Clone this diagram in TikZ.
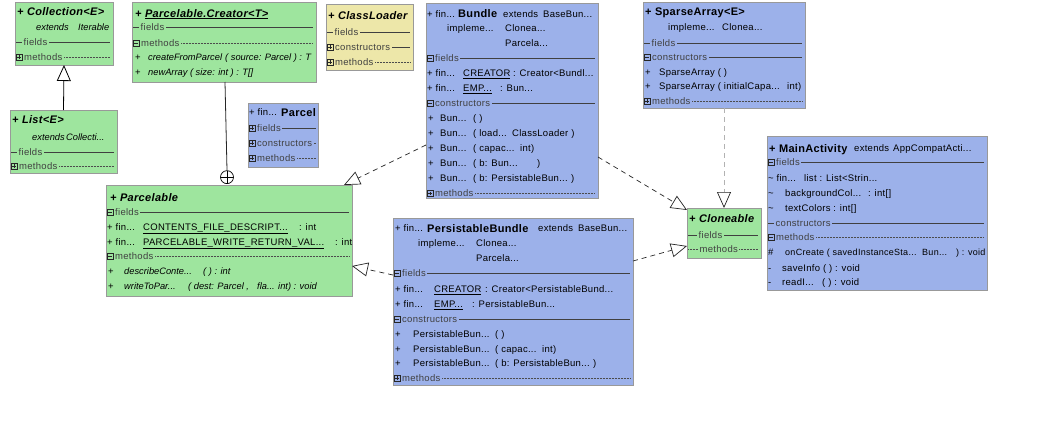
\documentclass[tikz,border=0pt]{standalone}
\usepackage{fontspec}
\setmainfont{Liberation Sans}[LetterSpace=3]
\newfontfamily\plainsans{Liberation Sans}
\usetikzlibrary{arrows.meta,calc}
\definecolor{grn}{HTML}{9EE59E}
\definecolor{blu}{HTML}{9CB1EA}
\definecolor{yel}{HTML}{EDE7A9}
\newcounter{tn}
\def\curfill{grn}
\newcommand\rowfont{\fontsize{9.5}{11}\selectfont}
\newcommand\smrowfont{\fontsize{9}{10}\selectfont}
\newcommand\itrowfont{\plainsans\fontsize{9.3}{10}\selectfont\itshape}
\newcommand\hdfont{\fontsize{11}{12}\selectfont\bfseries}
\newcommand\rt[4][]{\stepcounter{tn}\node[txt,#1] (t\arabic{tn}) at (#2,#3+3.4) {#4};}
\newcommand\hd[4][]{\stepcounter{tn}\node[htxt,#1] (t\arabic{tn}) at (#2,#3+4) {#4};}
\newcommand\icp[2]{\draw[icon,fill=\curfill] (#1+1,#2-3) rectangle (#1+7,#2+3); \draw[icon] (#1+2.3,#2) -- (#1+5.7,#2) (#1+4,#2-1.7) -- (#1+4,#2+1.7);}
\newcommand\icm[2]{\draw[icon,fill=\curfill] (#1+1,#2-3) rectangle (#1+7,#2+3); \draw[icon] (#1+2.3,#2) -- (#1+5.7,#2);}
\newcommand\secline[6][secsolid]{\draw[#1] (#2,#4) -- (#5,#4); \stepcounter{tn}\node[lbl,fill=\curfill] (t\arabic{tn}) at (#3,#4+3.4) {#6};}
\newcommand\secp[5][secsolid]{\secline[#1]{#2+7}{#2+7.5}{#3}{#4}{#5}\icp{#2}{#3}}
\newcommand\secm[5][secsolid]{\secline[#1]{#2+7}{#2+7.5}{#3}{#4}{#5}\icm{#2}{#3}}
\newcommand\classbox[6]{\node[cls,fill=#2,minimum width={(#5-#3)*1pt},minimum height={(#6-#4)*1pt}] (#1) at (#3,#4) {};\def\curfill{#2}}
\tikzset{
  cls/.style={draw=black!40, line width=0.6pt, anchor=north west, inner sep=0pt, outer sep=0pt, rectangle},
  txt/.style={inner sep=0pt, anchor=base west, font=\rowfont, text=black},
  sm/.style={font=\smrowfont},
  it/.style={font=\itrowfont},
  htxt/.style={inner sep=0pt, anchor=base west, font=\hdfont, text=black},
  hit/.style={font=\hdfont\itshape},
  lbl/.style={txt, text=black!75, inner xsep=1.5pt, inner ysep=0.8pt},
  secsolid/.style={draw=black!75, line width=0.6pt},
  secdot/.style={draw=black!70, line width=0.5pt, dash pattern=on 0.5pt off 1pt},
  icon/.style={draw=black!85, line width=0.5pt},
  real/.style={draw=black!85, line width=0.7pt, dash pattern=on 5pt off 4pt, -{Triangle[length=16pt,width=14pt,fill=white,color=black!85]}},
  realgrey/.style={real, draw=black!30},
  gen/.style={draw=black, line width=0.8pt, -{Triangle[length=16pt,width=14pt,fill=white]}},
  nestline/.style={draw=black!85, line width=0.8pt},
  nestc/.style={circle, draw=black, line width=0.7pt, minimum size=13pt, inner sep=0pt, fill=white,
    path picture={\draw[line width=0.7pt] (path picture bounding box.north) -- (path picture bounding box.south) (path picture bounding box.west) -- (path picture bounding box.east);}}
}
\begin{document}
\begin{tikzpicture}[x=1pt,y=-1pt]
\fill[white] (0,0) rectangle (1046,423);
\useasboundingbox (0,0) rectangle (1046,423);

% Collection<E>
\classbox{coll}{grn}{15}{2}{113}{65}
\hd[hit]{17}{11}{+ Collection<E>}
\rt[it]{36}{27}{extends} \rt[it]{78}{27}{Iterable}
\secline{16}{22}{42}{110}{fields}
\secp[secdot]{15}{57}{110}{methods}

% List<E>
\classbox{list}{grn}{10}{110}{117}{173}
\hd[hit]{12}{119}{+ List<E>}
\rt[it]{32}{137}{extends} \rt[it]{66}{137}{Collecti...}
\secline{11}{17}{152}{114}{fields}
\secp[secdot]{10}{166}{114}{methods}

% Parcelable.Creator<T>
\classbox{creator}{grn}{132}{2}{316}{82}
\hd[hit]{135}{13}{+ \underline{Parcelable.Creator<T>}}
\secline{133}{139}{27}{313}{fields}
\secm[secdot]{132}{43}{313}{methods}
\rt{135}{57}{+} \rt[it]{148}{57}{createFromParcel} \rt[it]{225}{57}{( source: Parcel ) : T}
\rt{135}{72}{+} \rt[it]{148}{72}{newArray ( size: int ) : T[]}

% Parcel
\classbox{parcel}{blu}{248}{103}{318}{167}
\rt{249}{112}{+ fin...} \hd{281}{112}{Parcel}
\secp{248}{128}{316}{fields}
\secp[secdot]{248}{143}{316}{constructors}
\secp[secdot]{248}{158}{316}{methods}

% ClassLoader
\classbox{cloader}{yel}{326}{4}{413}{70}
\hd[hit]{328}{15}{+ ClassLoader}
\secline{327}{333}{32}{410}{fields}
\secp{326}{47}{410}{constructors}
\secp[secdot]{326}{62}{410}{methods}

% Bundle
\classbox{bundle}{blu}{426}{3}{598}{198}
\rt{427}{13.9}{+ fin...} \hd{458}{13.5}{Bundle} \rt{503}{13.9}{extends} \rt{543}{13.9}{BaseBun...}
\rt{447}{28.5}{impleme...} \rt{505}{28.5}{Clonea...}
\rt{505}{43.5}{Parcela...}
\secm{426}{58.5}{595}{fields}
\rt{427}{73.5}{+ fin...} \rt{463}{73.5}{\underline{CREATOR}} \rt{513}{73.5}{: Creator<Bundl...}
\rt{427}{88.5}{+ fin...} \rt{463}{88.5}{\underline{EMP...}} \rt{500}{88.5}{: Bun...}
\secm{426}{103.5}{595}{constructors}
\rt{428}{118.5}{+} \rt{440}{118.5}{Bun...} \rt{473}{118.5}{( )}
\rt{428}{133.5}{+} \rt{440}{133.5}{Bun...} \rt{473}{133.5}{( load...} \rt{512}{133.5}{ClassLoader )}
\rt{428}{148.5}{+} \rt{440}{148.5}{Bun...} \rt{473}{148.5}{( capac...} \rt{520}{148.5}{int)}
\rt{428}{163.5}{+} \rt{440}{163.5}{Bun...} \rt{473}{163.5}{( b: Bun...} \rt{537}{163.5}{)}
\rt{428}{178.5}{+} \rt{440}{178.5}{Bun...} \rt{473}{178.5}{( b: PersistableBun...} \rt{571}{178.5}{)}
\secp[secdot]{426}{193.5}{595}{methods}

% SparseArray<E>
\classbox{sparse}{blu}{643}{2}{805}{108}
\hd{645}{11}{+ SparseArray<E>}
\rt{668}{27}{impleme...} \rt{722}{27}{Clonea...}
\secline{644}{650}{43}{802}{fields}
\secm{643}{57}{802}{constructors}
\rt{645}{72}{+} \rt{659}{72}{SparseArray ( )}
\rt{645}{86}{+} \rt{659}{86}{SparseArray ( initialCapa...} \rt{787}{86}{int)}
\secp[secdot]{643}{101}{802}{methods}

% Cloneable
\classbox{clone}{grn}{687}{208}{761}{258}
\hd[hit]{689}{218}{+ Cloneable}
\secline{688}{697}{235}{758}{fields}
\secline[secdot]{688}{698}{249}{758}{methods}

% MainActivity
\classbox{main}{blu}{767}{136}{987}{290}
\hd{769}{148}{+ MainActivity} \rt{854}{148.4}{extends} \rt{893}{148.4}{AppCompatActi...}
\secm{767}{162}{984}{fields}
\rt{768}{178}{\textasciitilde{} fin...} \rt{804}{178}{list : List<Strin...}
\rt{768}{193}{\textasciitilde} \rt{785}{193}{backgroundCol...} \rt{868}{193}{: int[]}
\rt{768}{208}{\textasciitilde} \rt{785}{208}{textColors : int[]}
\secline{768}{774}{223}{984}{constructors}
\secm[secdot]{767}{237}{984}{methods}
\rt{768}{252}{\#} \rt[sm]{785}{252}{onCreate ( savedInstanceSta...} \rt[sm]{922}{252}{Bun...} \rt[sm]{956}{252}{) : void}
\rt{768}{268}{-} \rt{782}{268}{saveInfo ( ) : void}
\rt{768}{282}{-} \rt{782}{282}{readI...} \rt{822}{282}{( ) : void}

% Parcelable
\classbox{parcelable}{grn}{106}{185}{352}{296}
\hd[hit]{110}{197}{+ Parcelable}
\secm{106}{212.5}{349}{fields}
\rt{107}{227}{+ fin...} \rt{143}{227}{\underline{CONTENTS\_FILE\_DESCRIPT...}} \rt{299}{227}{: int}
\rt{107}{242}{+ fin...} \rt{143}{242}{\underline{PARCELABLE\_WRITE\_RETURN\_VAL...}} \rt{335}{242}{: int}
\secm[secdot]{106}{256}{349}{methods}
\rt{108}{271}{+} \rt[it]{124}{271}{describeConte...} \rt[it]{203}{271}{( ) : int}
\rt{108}{286}{+} \rt[it]{124}{286}{writeToPar...} \rt[it]{188}{286}{( dest: Parcel ,} \rt[it]{257}{286}{fla...} \rt[it]{278}{286}{int) : void}

% PersistableBundle
\classbox{pbundle}{blu}{393}{218}{633}{385}
\rt{395}{228.4}{+ fin...} \hd{427}{228}{PersistableBundle} \rt{538}{228.4}{extends} \rt{578}{228.4}{BaseBun...}
\rt{418}{243}{impleme...} \rt{476}{243}{Clonea...}
\rt{476}{258}{Parcela...}
\secm{393}{273}{630}{fields}
\rt{395}{289}{+ fin...} \rt{434}{289}{\underline{CREATOR}} \rt{485}{289}{: Creator<PersistableBund...}
\rt{395}{304}{+ fin...} \rt{434}{304}{\underline{EMP...}} \rt{472}{304}{: PersistableBun...}
\secm{393}{319}{630}{constructors}
\rt{395}{334}{+} \rt{413}{334}{PersistableBun...} \rt{495}{334}{( )}
\rt{395}{349}{+} \rt{413}{349}{PersistableBun...} \rt{495}{349}{( capac...} \rt{542}{349}{int)}
\rt{395}{363}{+} \rt{413}{363}{PersistableBun...} \rt{495}{363}{( b: PersistableBun...} \rt{593}{363}{)}
\secp[secdot]{393}{378}{630}{methods}

% connectors
\draw[gen] (list.north) -- (coll.south);
\node[nestc, anchor=south] (nest) at ([xshift=-2pt,yshift=1pt]parcelable.north) {};
\draw[nestline] ([xshift=1pt]creator.south) -- (nest.north);
\draw[real] ([yshift=-142pt]bundle.north west) -- ([xshift=-8pt]parcelable.north east);
\draw[real] ([yshift=-154pt]bundle.north east) -- ([yshift=-2pt]clone.north west);
\draw[realgrey] (sparse.south) -- (clone.north);
\draw[real] ([yshift=-57pt]pbundle.north west) -- ([yshift=-81pt]parcelable.north east);
\draw[real] ([yshift=-43pt]pbundle.north east) -- ([yshift=-38pt]clone.north west);
\end{tikzpicture}
\end{document}
